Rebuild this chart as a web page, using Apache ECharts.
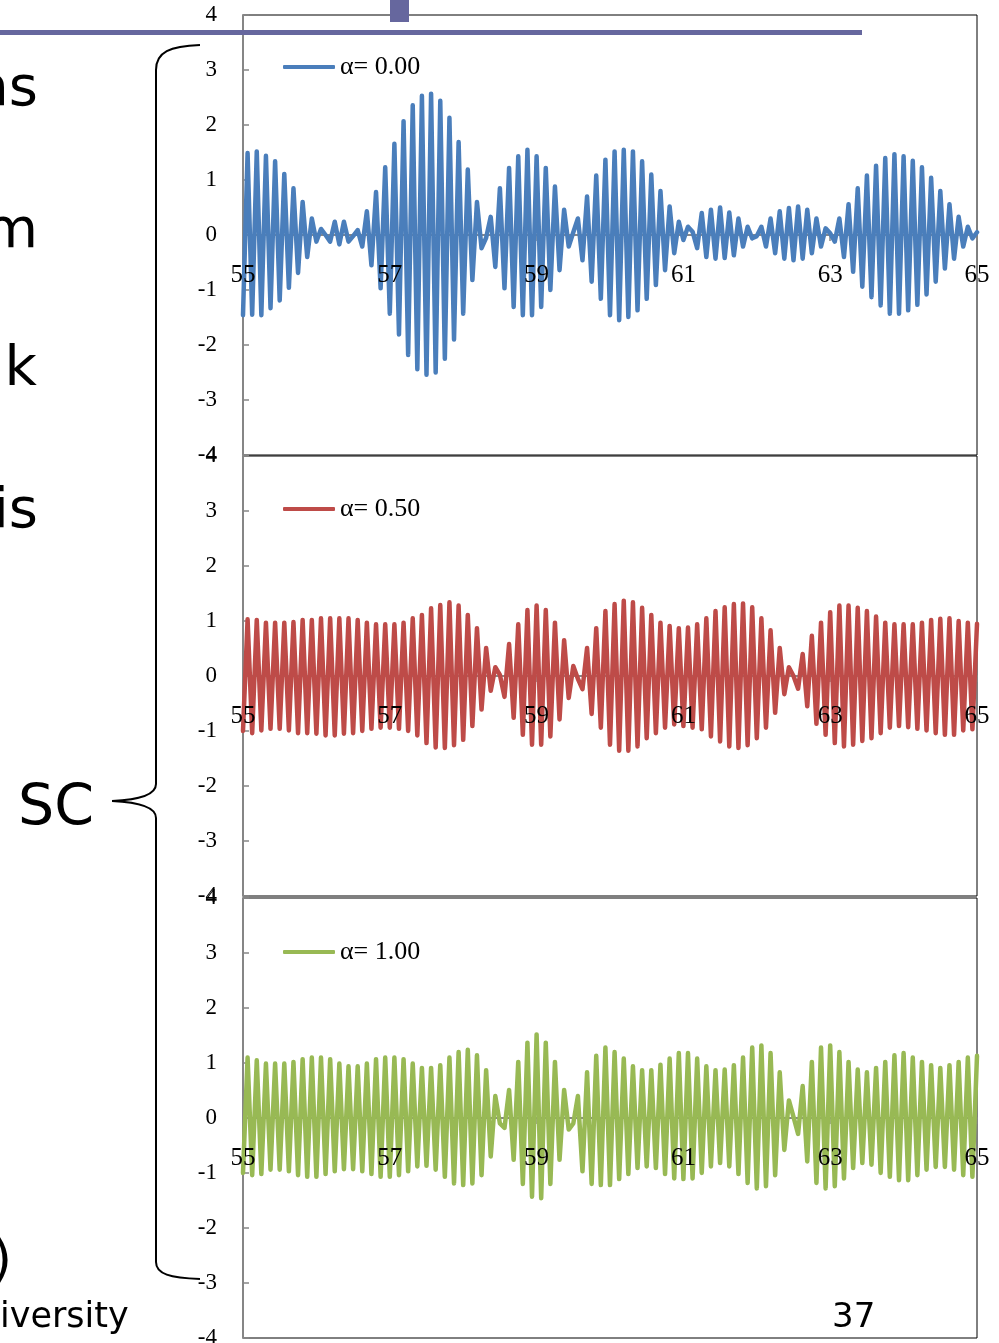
<!DOCTYPE html>
<html>
<head>
<meta charset="utf-8">
<script src="https://cdn.jsdelivr.net/npm/echarts@6/dist/echarts.min.js"></script>
<style>
html,body{margin:0;padding:0;background:#fff;}
#chart{width:999px;height:1343px;}
</style>
</head>
<body>
<div id="chart"></div>
<script>
// ---- data ----
const xStart = 55;          // first sample time
const xStep = 0.0625;       // sample spacing
const xTicks = [55, 57, 59, 61, 63, 65];
const seriesNames = ['α= 0.00', 'α= 0.50', 'α= 1.00'];

const alpha000 = [
 -1.46, 1.49,-1.45, 1.52,-1.46, 1.44,-1.33, 1.34,-1.19, 1.11,
 -0.96, 0.85,-0.69, 0.60,-0.40, 0.30,-0.12, 0.11, 0.00,-0.12,
  0.24,-0.17, 0.24,-0.12,-0.02, 0.09,-0.21, 0.43,-0.55, 0.78,
 -0.97, 1.23,-1.43, 1.66,-1.81, 2.07,-2.18, 2.36,-2.44, 2.53,
 -2.54, 2.57,-2.50, 2.44,-2.25, 2.13,-1.90, 1.69,-1.43, 1.19,
 -0.82, 0.60,-0.24,-0.05, 0.33,-0.58, 0.85,-0.97, 1.22,-1.31,
  1.43,-1.46, 1.55,-1.46, 1.43,-1.31, 1.22,-1.00, 0.88,-0.64,
  0.46,-0.21, 0.05, 0.30,-0.46, 0.70,-0.85, 1.08,-1.16, 1.37,
 -1.46, 1.52,-1.55, 1.55,-1.49, 1.52,-1.37, 1.34,-1.16, 1.10,
 -0.91, 0.80,-0.64, 0.52,-0.33, 0.24,-0.09, 0.15, 0.06,-0.24,
  0.40,-0.40, 0.46,-0.43, 0.50,-0.42, 0.41,-0.37, 0.30,-0.21,
  0.15,-0.06,-0.02, 0.15,-0.21, 0.30,-0.33, 0.43,-0.43, 0.49,
 -0.46, 0.52,-0.43, 0.46,-0.33, 0.30,-0.21, 0.12, 0.03,-0.12,
  0.30,-0.40, 0.56,-0.67, 0.85,-0.94, 1.08,-1.13, 1.26,-1.28,
  1.40,-1.43, 1.47,-1.43, 1.43,-1.37, 1.35,-1.27, 1.23,-1.08,
  1.04,-0.85, 0.80,-0.61, 0.56,-0.43, 0.33,-0.21, 0.15,-0.06,
  0.05
];

const alpha050 = [
 -1.00, 1.03,-1.04, 1.02,-0.99, 0.97,-0.96, 0.97,-0.96, 0.97,
 -0.99, 0.98,-1.04, 1.02,-1.04, 1.02,-1.05, 1.05,-1.08, 1.05,
 -1.08, 1.05,-1.05, 1.05,-1.04, 1.02,-1.00, 0.97,-0.96, 0.94,
 -0.94, 0.94,-0.94, 0.94,-0.96, 0.97,-1.00, 1.05,-1.08, 1.11,
 -1.22, 1.23,-1.30, 1.29,-1.31, 1.34,-1.26, 1.28,-1.16, 1.11,
 -0.91, 0.87,-0.61, 0.51,-0.27, 0.16, 0.02,-0.38, 0.58,-0.76,
  0.94,-1.07, 1.20,-1.25, 1.28,-1.25, 1.20,-1.10, 0.97,-0.79,
  0.65,-0.40, 0.18,-0.05,-0.24, 0.51,-0.69, 0.87,-0.94, 1.18,
 -1.25, 1.31,-1.36, 1.37,-1.36, 1.34,-1.28, 1.24,-1.13, 1.11,
 -1.04, 0.97,-0.94, 0.91,-0.88, 0.87,-0.91, 0.88,-0.94, 0.94,
 -0.97, 1.05,-1.10, 1.18,-1.19, 1.25,-1.28, 1.31,-1.31, 1.32,
 -1.26, 1.25,-1.13, 1.05,-0.94, 0.83,-0.67, 0.51,-0.33, 0.16,
  0.00,-0.23, 0.40,-0.55, 0.73,-0.87, 0.97,-1.07, 1.16,-1.22,
  1.28,-1.28, 1.28,-1.25, 1.24,-1.18, 1.18,-1.13, 1.08,-1.04,
  0.97,-0.94, 0.94,-0.91, 0.94,-0.93, 0.94,-0.96, 0.97,-0.99,
  1.02,-1.04, 1.04,-1.07, 1.05,-1.07, 1.00,-0.99, 0.97,-0.97,
  0.95
];

const alpha100 = [
 -1.00, 1.10,-1.04, 1.05,-1.02, 0.99,-0.94, 0.99,-0.94, 0.99,
 -0.97, 1.02,-1.04, 1.07,-1.07, 1.10,-1.07, 1.10,-1.02, 1.07,
 -0.97, 0.99,-0.93, 0.94,-0.93, 0.94,-0.97, 0.99,-1.02, 1.07,
 -1.07, 1.10,-1.07, 1.10,-1.04, 1.07,-0.97, 0.99,-0.88, 0.91,
 -0.87, 0.91,-0.94, 0.96,-1.07, 1.10,-1.19, 1.20,-1.22, 1.24,
 -1.19, 1.14,-1.04, 0.87,-0.70, 0.40,-0.10,-0.18, 0.51,-0.76,
  1.02,-1.20, 1.37,-1.43, 1.52,-1.46, 1.37,-1.20, 1.02,-0.76,
  0.51,-0.21,-0.10, 0.40,-0.97, 0.83,-1.20, 1.13,-1.22, 1.28,
 -1.22, 1.20,-1.11, 1.08,-1.02, 0.94,-0.91, 0.87,-0.88, 0.87,
 -0.91, 0.97,-1.02, 1.08,-1.10, 1.18,-1.11, 1.18,-1.10, 1.08,
 -1.00, 0.94,-0.88, 0.87,-0.82, 0.88,-0.88, 0.96,-1.02, 1.10,
 -1.18, 1.28,-1.28, 1.32,-1.24, 1.18,-1.04, 0.83,-0.58, 0.32,
  0.02,-0.29, 0.58,-0.79, 1.02,-1.18, 1.28,-1.28, 1.32,-1.24,
  1.20,-1.10, 1.02,-0.91, 0.88,-0.82, 0.83,-0.85, 0.91,-1.00,
  1.02,-1.07, 1.14,-1.13, 1.18,-1.13, 1.10,-1.04, 1.02,-0.94,
  0.96,-0.89, 0.91,-0.89, 0.96,-0.94, 1.02,-1.04, 1.10,-1.07,
  1.13
];

const allValues = [alpha000, alpha050, alpha100];
const colors = ['#4a7ebb', '#be4b48', '#98b954'];

// ---- layout ----
const SERIF = '"Liberation Serif","Times New Roman",serif';
const SANS = '"DejaVu Sans","Verdana",sans-serif';
const gridTops = [15, 456, 898];
const gridHeight = 440;
const legendTops = [54, 496, 939];
const axisGray = '#868686';
const slidePurple = '#66679e';

const chart = echarts.init(document.getElementById('chart'), null, {renderer: 'canvas'});

const baseX = (i) => ({
  gridIndex: i, type: 'value', min: xTicks[0], max: xTicks[xTicks.length - 1], interval: 2,
  position: 'bottom', offset: -gridHeight / 2,
  splitLine: {show: false}
});

// axis line + ticks under the series, labels above the series
const xAxesLine = gridTops.map((t, i) => Object.assign(baseX(i), {
  z: 1,
  axisLine: {show: true, onZero: false, lineStyle: {color: axisGray, width: 2}},
  axisTick: {show: true, inside: false, length: 6, lineStyle: {color: axisGray, width: 1.5}},
  axisLabel: {show: false}
}));
const xAxesLabel = gridTops.map((t, i) => Object.assign(baseX(i), {
  z: 6,
  axisLine: {show: false, onZero: false},
  axisTick: {show: false},
  axisLabel: {show: true, margin: 28, color: '#000', fontFamily: SERIF, fontSize: 25}
}));

const option = {
  animation: false,
  backgroundColor: '#ffffff',
  grid: gridTops.map(t => ({
    left: 243, width: 734, top: t, height: gridHeight,
    containLabel: false, outerBoundsMode: 'none',
    show: true, borderColor: '#000', borderWidth: 1, backgroundColor: 'rgba(0,0,0,0)'
  })),
  xAxis: xAxesLine.concat(xAxesLabel),
  yAxis: gridTops.map((t, i) => ({
    gridIndex: i, type: 'value', min: -4, max: 4, interval: 1,
    axisLine: {show: true, lineStyle: {color: axisGray, width: 2}},
    axisTick: {show: true, inside: true, length: 6, lineStyle: {color: axisGray, width: 1.5}},
    axisLabel: {show: true, margin: 26, color: '#000', fontFamily: SERIF, fontSize: 23},
    splitLine: {show: false}
  })),
  legend: seriesNames.map((n, i) => ({
    data: [n], left: 283, top: legendTops[i], padding: 0,
    icon: 'roundRect', itemWidth: 52, itemHeight: 4,
    textStyle: {color: '#000', fontFamily: SERIF, fontSize: 26}
  })),
  series: allValues.map((vals, i) => ({
    name: seriesNames[i], type: 'line', xAxisIndex: i, yAxisIndex: i,
    data: vals.map((v, k) => [xStart + k * xStep, v]),
    symbol: 'none', showSymbol: false, smooth: false,
    color: colors[i],
    lineStyle: {color: colors[i], width: 4.5, cap: 'round', join: 'round'},
    z: 3
  })),
  graphic: [
    // slide header bar and marker
    {type: 'rect', shape: {x: 0, y: 30, width: 862, height: 5}, style: {fill: slidePurple}, z: 100},
    {type: 'rect', shape: {x: 390, y: 0, width: 19, height: 22}, style: {fill: slidePurple}, z: 100},
    // slide text fragments
    {type: 'text', x: 38, y: 90, style: {text: 'ns', font: '56px ' + SANS, fill: '#000', textAlign: 'right', textVerticalAlign: 'middle'}, z: 100},
    {type: 'text', x: 38, y: 232, style: {text: 'm', font: '56px ' + SANS, fill: '#000', textAlign: 'right', textVerticalAlign: 'middle'}, z: 100},
    {type: 'text', x: 37, y: 370, style: {text: 'k', font: '56px ' + SANS, fill: '#000', textAlign: 'right', textVerticalAlign: 'middle'}, z: 100},
    {type: 'text', x: 38, y: 512, style: {text: 'is', font: '56px ' + SANS, fill: '#000', textAlign: 'right', textVerticalAlign: 'middle'}, z: 100},
    {type: 'text', x: 18, y: 810, style: {text: 'SC', font: '57px ' + SANS, fill: '#000', textAlign: 'left', textVerticalAlign: 'middle'}, z: 100},
    {type: 'text', x: 12, y: 1262, style: {text: ')', font: '52px ' + SANS, fill: '#000', textAlign: 'right', textVerticalAlign: 'middle'}, z: 100},
    {type: 'text', x: 0, y: 1318, style: {text: 'iversity', font: '35px ' + SANS, fill: '#000', textAlign: 'left', textVerticalAlign: 'middle'}, z: 100},
    {type: 'text', x: 832, y: 1318, style: {text: '37', font: '34px ' + SANS, fill: '#000', textAlign: 'left', textVerticalAlign: 'middle'}, z: 100},
    // curly brace
    {type: 'bezierCurve', shape: {x1: 200, y1: 45, cpx1: 170, cpy1: 46, cpx2: 156, cpy2: 52, x2: 156, y2: 70}, style: {stroke: '#000', lineWidth: 2, fill: null}, z: 100},
    {type: 'line', shape: {x1: 156, y1: 70, x2: 156, y2: 784}, style: {stroke: '#000', lineWidth: 2}, z: 100},
    {type: 'bezierCurve', shape: {x1: 156, y1: 784, cpx1: 156, cpy1: 796, cpx2: 135, cpy2: 800, x2: 112, y2: 801}, style: {stroke: '#000', lineWidth: 2, fill: null}, z: 100},
    {type: 'bezierCurve', shape: {x1: 112, y1: 801, cpx1: 135, cpy1: 802, cpx2: 156, cpy2: 806, x2: 156, y2: 818}, style: {stroke: '#000', lineWidth: 2, fill: null}, z: 100},
    {type: 'line', shape: {x1: 156, y1: 818, x2: 156, y2: 1262}, style: {stroke: '#000', lineWidth: 2}, z: 100},
    {type: 'bezierCurve', shape: {x1: 156, y1: 1262, cpx1: 156, cpy1: 1274, cpx2: 170, cpy2: 1278, x2: 200, y2: 1279}, style: {stroke: '#000', lineWidth: 2, fill: null}, z: 100}
  ]
};

chart.setOption(option);
</script>
</body>
</html>
